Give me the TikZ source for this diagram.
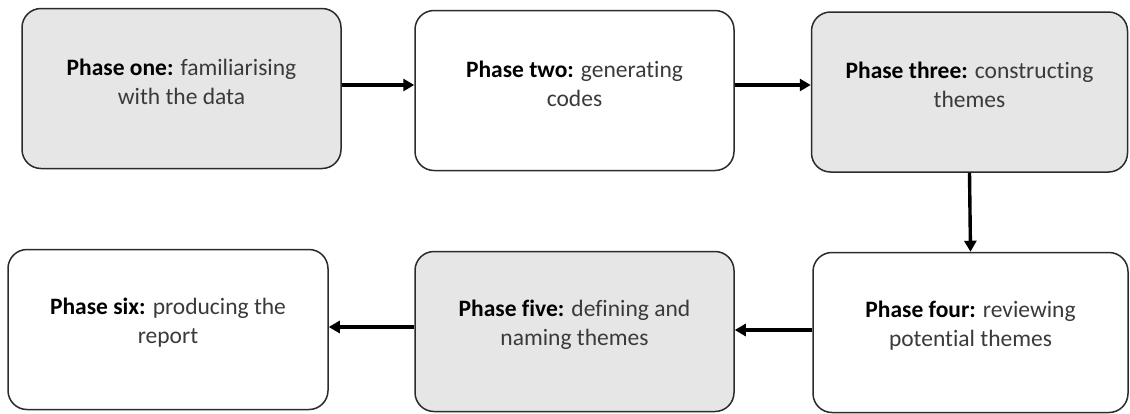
\documentclass[tikz,border=0pt]{standalone}
\usepackage{fontspec}
\setmainfont[Ligatures=NoCommon]{Carlito}
\usetikzlibrary{arrows.meta,calc}
\definecolor{boxgray}{HTML}{E7E6E6}
\definecolor{edgecol}{HTML}{2B2B2B}
\definecolor{plaintext}{HTML}{3A3A3A}
\begin{document}
\begin{tikzpicture}[x=1pt,y=-1pt,
  phasebox/.style={draw=edgecol,line width=1.5pt,rounded corners=19pt,
    minimum width=#1,minimum height=160pt,inner sep=0pt},
  shaded/.style={fill=boxgray},
  plain/.style={fill=white},
  caption/.style={align=center,text=plaintext,
    font=\fontsize{23.5}{29}\selectfont,inner sep=0pt},
  flow/.style={line width=3.4pt,-{Triangle[length=11pt,width=12pt]}}]
\useasboundingbox (0,0) rectangle (1130,413);

% top row
\node[phasebox=319pt,shaded] (b1) at (181.5,88.5) {};
\node[phasebox=319pt,plain]  (b2) at (574.5,90.5) {};
\node[phasebox=316pt,shaded] (b3) at (969.5,92) {};
% bottom row
\node[phasebox=315pt,plain]  (b4) at (970.5,332.5) {};
\node[phasebox=319pt,shaded] (b5) at (574.5,331.5) {};
\node[phasebox=320pt,plain]  (b6) at (168,329.5) {};

% captions
\node[caption] (t1) at ([yshift=7pt]b1.center) {\textcolor{black}{\textbf{Phase one:}} familiarising\\with the data};
\node[caption] (t2) at ([yshift=7pt]b2.center) {\textcolor{black}{\textbf{Phase two:}} generating\\codes};
\node[caption] (t3) at ([yshift=7pt]b3.center) {\textcolor{black}{\textbf{Phase three:}} constructing\\themes};
\node[caption] (t4) at ([yshift=7pt]b4.center) {\textcolor{black}{\textbf{Phase four:}} reviewing\\potential themes};
\node[caption] (t5) at ([yshift=7pt]b5.center) {\textcolor{black}{\textbf{Phase five:}} defining and\\naming themes};
\node[caption] (t6) at ([yshift=7pt]b6.center) {\textcolor{black}{\textbf{Phase six:}} producing the\\report};

% connectors
\draw[flow] (b1.east |- 0,85) -- (b2.west |- 0,85);
\draw[flow] (b2.east |- 0,85) -- (b3.west |- 0,85);
\draw[flow] (b3.south) -- (b4.north);
\draw[flow] (b4.west |- 0,330) -- (b5.east |- 0,330);
\draw[flow] (b5.west |- 0,327) -- (b6.east |- 0,327);
\end{tikzpicture}
\end{document}
